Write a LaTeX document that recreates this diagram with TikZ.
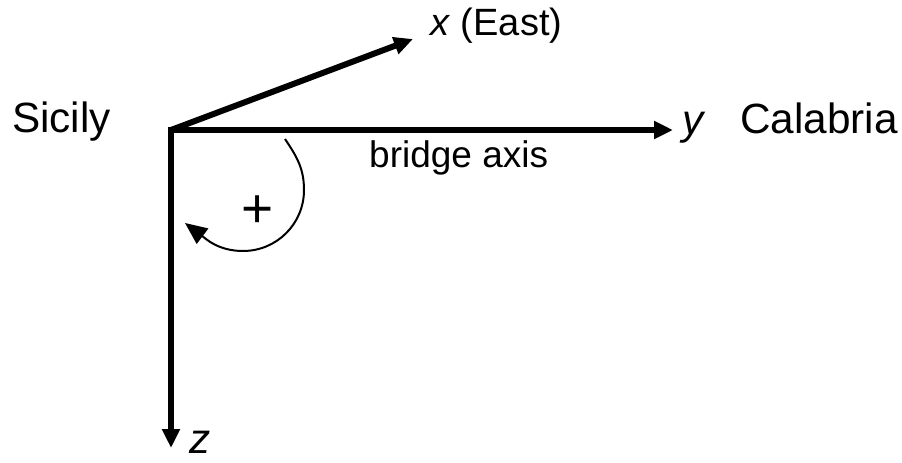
\documentclass[tikz,border=0pt]{standalone}
\usepackage{fontspec}
\setmainfont{Liberation Sans}
\usepackage{tikz}
\usetikzlibrary{arrows.meta}

\begin{document}
\begin{tikzpicture}[x=1pt, y=1pt,
    axis/.style={line width=6pt, -{Triangle[length=19pt, width=17pt]}},
    turn/.style={line width=2pt, -{Triangle[length=22pt, width=19pt]}},
    lbl/.style={inner sep=0, anchor=base west, font=\fontsize{42.3}{50}\selectfont},
    small/.style={inner sep=0, anchor=base west, font=\fontsize{37}{44}\selectfont}
  ]
    \useasboundingbox (0,0) rectangle (902,-463);

    % axes
    \coordinate (O) at (171,-130);
    \coordinate (X) at (413,-39);
    \coordinate (Y) at (673,-130);
    \coordinate (Z) at (171,-448);
    \draw[axis] (O) -- (X);
    \draw[axis] ([xshift=-3pt]O) -- (Y);
    \draw[axis] ([yshift=3pt]O) -- (Z);

    % labels
    \node[small, font=\fontsize{38}{45}\selectfont] (xlab) at (430,-35) {\textit{x} (East)};
    \node[lbl] (ylab) at (682,-134) {\textit{y}};
    \node[lbl] (zlab) at (189,-453) {\textit{z}};
    \node[lbl] (sicily) at (12,-132) {Sicily};
    \node[lbl] (calabria) at (740,-133) {Calabria};
    \node[small] (bridge) at (369,-167) {bridge axis};

    % sense of rotation
    \coordinate (A) at (285,-139);
    \coordinate (R) at (304,-190);
    \coordinate (B) at (243,-251);
    \coordinate (T) at (185,-223);
    \draw[turn] (A) to[out=-56, in=90] (R) to[out=-90, in=0] (B) to[out=180, in=-37] (T);
    \node[inner sep=0, font=\fontsize{55}{60}\selectfont] (plus) at (258,-212) {+};
  \end{tikzpicture}
\end{document}
